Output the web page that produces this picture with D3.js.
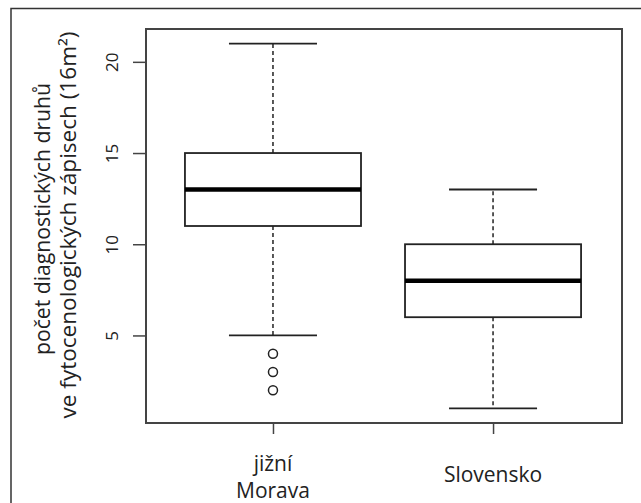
<!DOCTYPE html>
<html>
<head>
<meta charset="utf-8">
<script src="https://cdn.jsdelivr.net/npm/d3@7"></script>
<style>
  html, body { margin: 0; padding: 0; background: #fff; }
  svg { display: block; }
  text { font-family: "Open Sans", sans-serif; fill: #222; }
</style>
</head>
<body>
<svg id="chart" width="641" height="503"></svg>
<script>
// ---- data ----
const categories = ["jižní\nMorava", "Slovensko"];
const whiskerLow = [5, 1];
const q1 = [11, 6];
const median = [13, 8];
const q3 = [15, 10];
const whiskerHigh = [21, 13];
const outliers = [[4, 3, 2], []];
const yTicks = [5, 10, 15, 20];
const yTitleLines = ["počet diagnostických druhů", "ve fytocenologických zápisech (16m²)"];

// ---- layout ----
const svg = d3.select("#chart");
const plot = { left: 146, right: 622, top: 29, bottom: 423 };

const y = d3.scaleLinear().domain([0.2, 21.8]).range([plot.bottom, plot.top]);
const x = d3.scaleLinear().domain([-0.577, 1.586]).range([plot.left, plot.right]);
const boxW = 0.8, capW = 0.4;

// outer frame (top + left lines of the figure border)
svg.append("path")
  .attr("d", "M11,503 L11,8.5 L641,8.5")
  .attr("fill", "none").attr("stroke", "#333").attr("stroke-width", 1.5);

// plot frame
svg.append("rect")
  .attr("x", plot.left).attr("y", plot.top)
  .attr("width", plot.right - plot.left).attr("height", plot.bottom - plot.top)
  .attr("fill", "none").attr("stroke", "#444").attr("stroke-width", 2);

// y axis
const yAxis = d3.axisLeft(y).tickValues(yTicks).tickSize(13).tickPadding(0).tickFormat(d3.format("d"));
const gy = svg.append("g").attr("transform", `translate(${plot.left},0)`).call(yAxis);
gy.select(".domain").remove();
gy.selectAll(".tick line").attr("stroke", "#444").attr("stroke-width", 1.5);
gy.selectAll(".tick text")
  .attr("x", null).attr("dy", null)
  .attr("transform", "translate(-35,0) rotate(-90)")
  .attr("text-anchor", "middle")
  .attr("dominant-baseline", "central")
  .style("font-size", "17px")
  .style("font-family", "'Open Sans', sans-serif")
  .attr("fill", "#222");

// x axis
const xAxis = d3.axisBottom(x).tickValues(categories.map((c, i) => i)).tickSize(11).tickFormat("");
const gx = svg.append("g").attr("transform", `translate(0,${plot.bottom})`).call(xAxis);
gx.select(".domain").remove();
gx.selectAll(".tick line").attr("stroke", "#444").attr("stroke-width", 1.5);

// x labels
categories.forEach((c, i) => {
  const lines = c.split("\n");
  const t = svg.append("text")
    .attr("x", x(i))
    .attr("text-anchor", "middle")
    .style("font-size", "21px");
  if (lines.length === 2) {
    t.attr("y", 471);
    lines.forEach((l, k) => t.append("tspan").attr("x", x(i)).attr("dy", k === 0 ? 0 : 27).text(l));
  } else {
    t.attr("y", 482).text(lines[0]);
  }
});

// y title
const tcy = (plot.top + plot.bottom) / 2;
const titleLen = [272, 387];
yTitleLines.forEach((l, k) => {
  svg.append("text")
    .attr("transform", `translate(${k === 0 ? 42 : 68},${tcy - (k === 0 ? 7 : 1)}) rotate(-90)`)
    .attr("text-anchor", "middle")
    .attr("dominant-baseline", "central")
    .attr("textLength", titleLen[k])
    .attr("lengthAdjust", "spacingAndGlyphs")
    .style("font-size", "21px")
    .text(l);
});

// boxes
const g = svg.append("g");
categories.forEach((c, i) => {
  const cx = x(i);
  const hw = x(i + boxW / 2) - cx;
  const cw = x(i + capW / 2) - cx;
  // whiskers (dashed)
  g.append("line").attr("x1", cx).attr("x2", cx).attr("y1", y(q3[i])).attr("y2", y(whiskerHigh[i]))
    .attr("stroke", "#222").attr("stroke-width", 1.5).attr("stroke-dasharray", "4,3");
  g.append("line").attr("x1", cx).attr("x2", cx).attr("y1", y(q1[i])).attr("y2", y(whiskerLow[i]))
    .attr("stroke", "#222").attr("stroke-width", 1.5).attr("stroke-dasharray", "4,3");
  // caps
  [whiskerHigh[i], whiskerLow[i]].forEach(v => {
    g.append("line").attr("x1", cx - cw).attr("x2", cx + cw).attr("y1", y(v)).attr("y2", y(v))
      .attr("stroke", "#222").attr("stroke-width", 1.8);
  });
  // box
  g.append("rect").attr("x", cx - hw).attr("width", 2 * hw)
    .attr("y", y(q3[i])).attr("height", y(q1[i]) - y(q3[i]))
    .attr("fill", "#fff").attr("stroke", "#222").attr("stroke-width", 1.8);
  // median
  g.append("line").attr("x1", cx - hw).attr("x2", cx + hw).attr("y1", y(median[i])).attr("y2", y(median[i]))
    .attr("stroke", "#000").attr("stroke-width", 4.5);
  // outliers
  outliers[i].forEach(v => {
    g.append("circle").attr("cx", cx).attr("cy", y(v)).attr("r", 4.5)
      .attr("fill", "none").attr("stroke", "#222").attr("stroke-width", 1.5);
  });
});
</script>
</body>
</html>
